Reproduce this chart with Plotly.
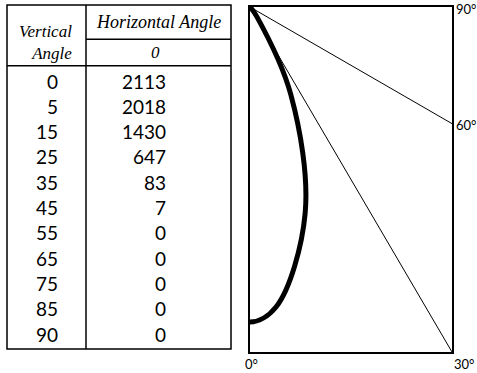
import numpy as np
import plotly.graph_objects as go

# %% Data
vertical_angle = [0, 5, 15, 25, 35, 45, 55, 65, 75, 85, 90]
candela = [2113, 2018, 1430, 647, 83, 7, 0, 0, 0, 0, 0]
horizontal_angle = "0"
guide_angles = [30, 60]
corner_labels = ["0°", "30°", "60°", "90°"]

SANS = "Lato"
SERIF = "Liberation Serif"

# %% Curve (lamp at top-left, angle measured from nadir)
theta = np.radians(vertical_angle)
cd = np.array(candela, dtype=float)
# mirror the 5 deg point so the curve leaves the axis flat
xs = np.concatenate([[-cd[1] * np.sin(theta[1])], cd * np.sin(theta)])
ys = np.concatenate([[-cd[1] * np.cos(theta[1])], -cd * np.cos(theta)])

X_MAX, Y_MIN = 1355, -2314

fig = go.Figure()
fig.add_trace(
    go.Scatter(
        x=xs, y=ys, mode="lines",
        line=dict(color="black", width=5, shape="spline", smoothing=1.0),
        xaxis="x", yaxis="y", hoverinfo="skip",
    )
)

# guide rays
fig.add_trace(
    go.Scatter(
        x=[X_MAX, 0, X_MAX], y=[-X_MAX / np.tan(np.radians(guide_angles[1])), 0, Y_MIN],
        mode="lines", line=dict(color="black", width=1),
        xaxis="x", yaxis="y", hoverinfo="skip",
    )
)

# %% Table (text through x2 / y2; y2 = row index)
ann = []
num = dict(family=SANS, size=19, color="black")
for i, (va, c) in enumerate(zip(vertical_angle, candela)):
    ann.append(dict(x=53, y=i, xref="x2", yref="y2", text=str(va), showarrow=False,
                    xanchor="right", yanchor="middle", font=num))
    ann.append(dict(x=161, y=i, xref="x2", yref="y2", text=str(c), showarrow=False,
                    xanchor="right", yanchor="middle", font=num))

hdr = dict(family=SERIF, size=17, color="black")
ann += [
    dict(x=67, y=-1.54, xref="x2", yref="y2", text="<i>Vertical</i><br><i>Angle</i>", showarrow=False,
         xanchor="right", align="right", font=hdr),
    dict(x=151, y=-2.33, xref="x2", yref="y2", text="<i>Horizontal Angle</i>", showarrow=False,
         font=dict(family=SERIF, size=18, color="black")),
    dict(x=148, y=-1.11, xref="x2", yref="y2", text=f"<i>{horizontal_angle}</i>", showarrow=False, font=hdr),
]

# corner labels
lab = dict(family=SANS, size=13, color="black")
ann += [
    dict(x=0, y=Y_MIN, xref="x", yref="y", text=corner_labels[0], showarrow=False,
         xanchor="left", yanchor="top", xshift=-7, yshift=-2, font=lab),
    dict(x=X_MAX, y=Y_MIN, xref="x", yref="y", text=corner_labels[1], showarrow=False,
         xanchor="left", yanchor="top", xshift=0, yshift=-2, font=lab),
    dict(x=X_MAX, y=-X_MAX / np.tan(np.radians(guide_angles[1])), xref="x", yref="y", text=corner_labels[2],
         showarrow=False, xanchor="left", yanchor="middle", xshift=2, yshift=-1, font=lab),
    dict(x=X_MAX, y=0, xref="x", yref="y", text=corner_labels[3], showarrow=False,
         xanchor="left", yanchor="middle", xshift=2, yshift=-2, font=lab),
]

line = dict(color="black", width=1.5)
shapes = [
    dict(type="rect", xref="x2 domain", yref="y2 domain", x0=0, x1=1, y0=0, y1=1, line=line),
    dict(type="line", xref="x2", yref="y2 domain", x0=79, x1=79, y0=0, y1=1, line=line),
    dict(type="line", xref="x2", yref="y2", x0=79, x1=224, y0=-1.65, y1=-1.65, line=line),
    dict(type="line", xref="x2", yref="y2", x0=0, x1=224, y0=-0.60, y1=-0.60, line=line),
]

ax_off = dict(showgrid=False, zeroline=False, showticklabels=False, ticks="")
fig.update_layout(
    width=477, height=373, autosize=False,
    margin=dict(l=0, r=0, t=0, b=0),
    paper_bgcolor="white", plot_bgcolor="white",
    showlegend=False,
    xaxis=dict(domain=[250 / 477, 452 / 477], range=[0, X_MAX], showline=True, mirror=True,
               linecolor="black", linewidth=1.5, **ax_off),
    yaxis=dict(domain=[21 / 373, 366 / 373], range=[Y_MIN, 0], showline=True, mirror=True,
               linecolor="black", linewidth=1.5, **ax_off),
    xaxis2=dict(domain=[7 / 477, 231 / 477], range=[0, 224], anchor="y2", visible=False),
    yaxis2=dict(domain=[24 / 373, 368 / 373], range=[10.593, -3.004], anchor="x2", visible=False),
    annotations=ann,
    shapes=shapes,
)

fig.write_html(
    "out.html",
    config={"displayModeBar": False},
    post_script="document.body.style.margin='0';",
)
